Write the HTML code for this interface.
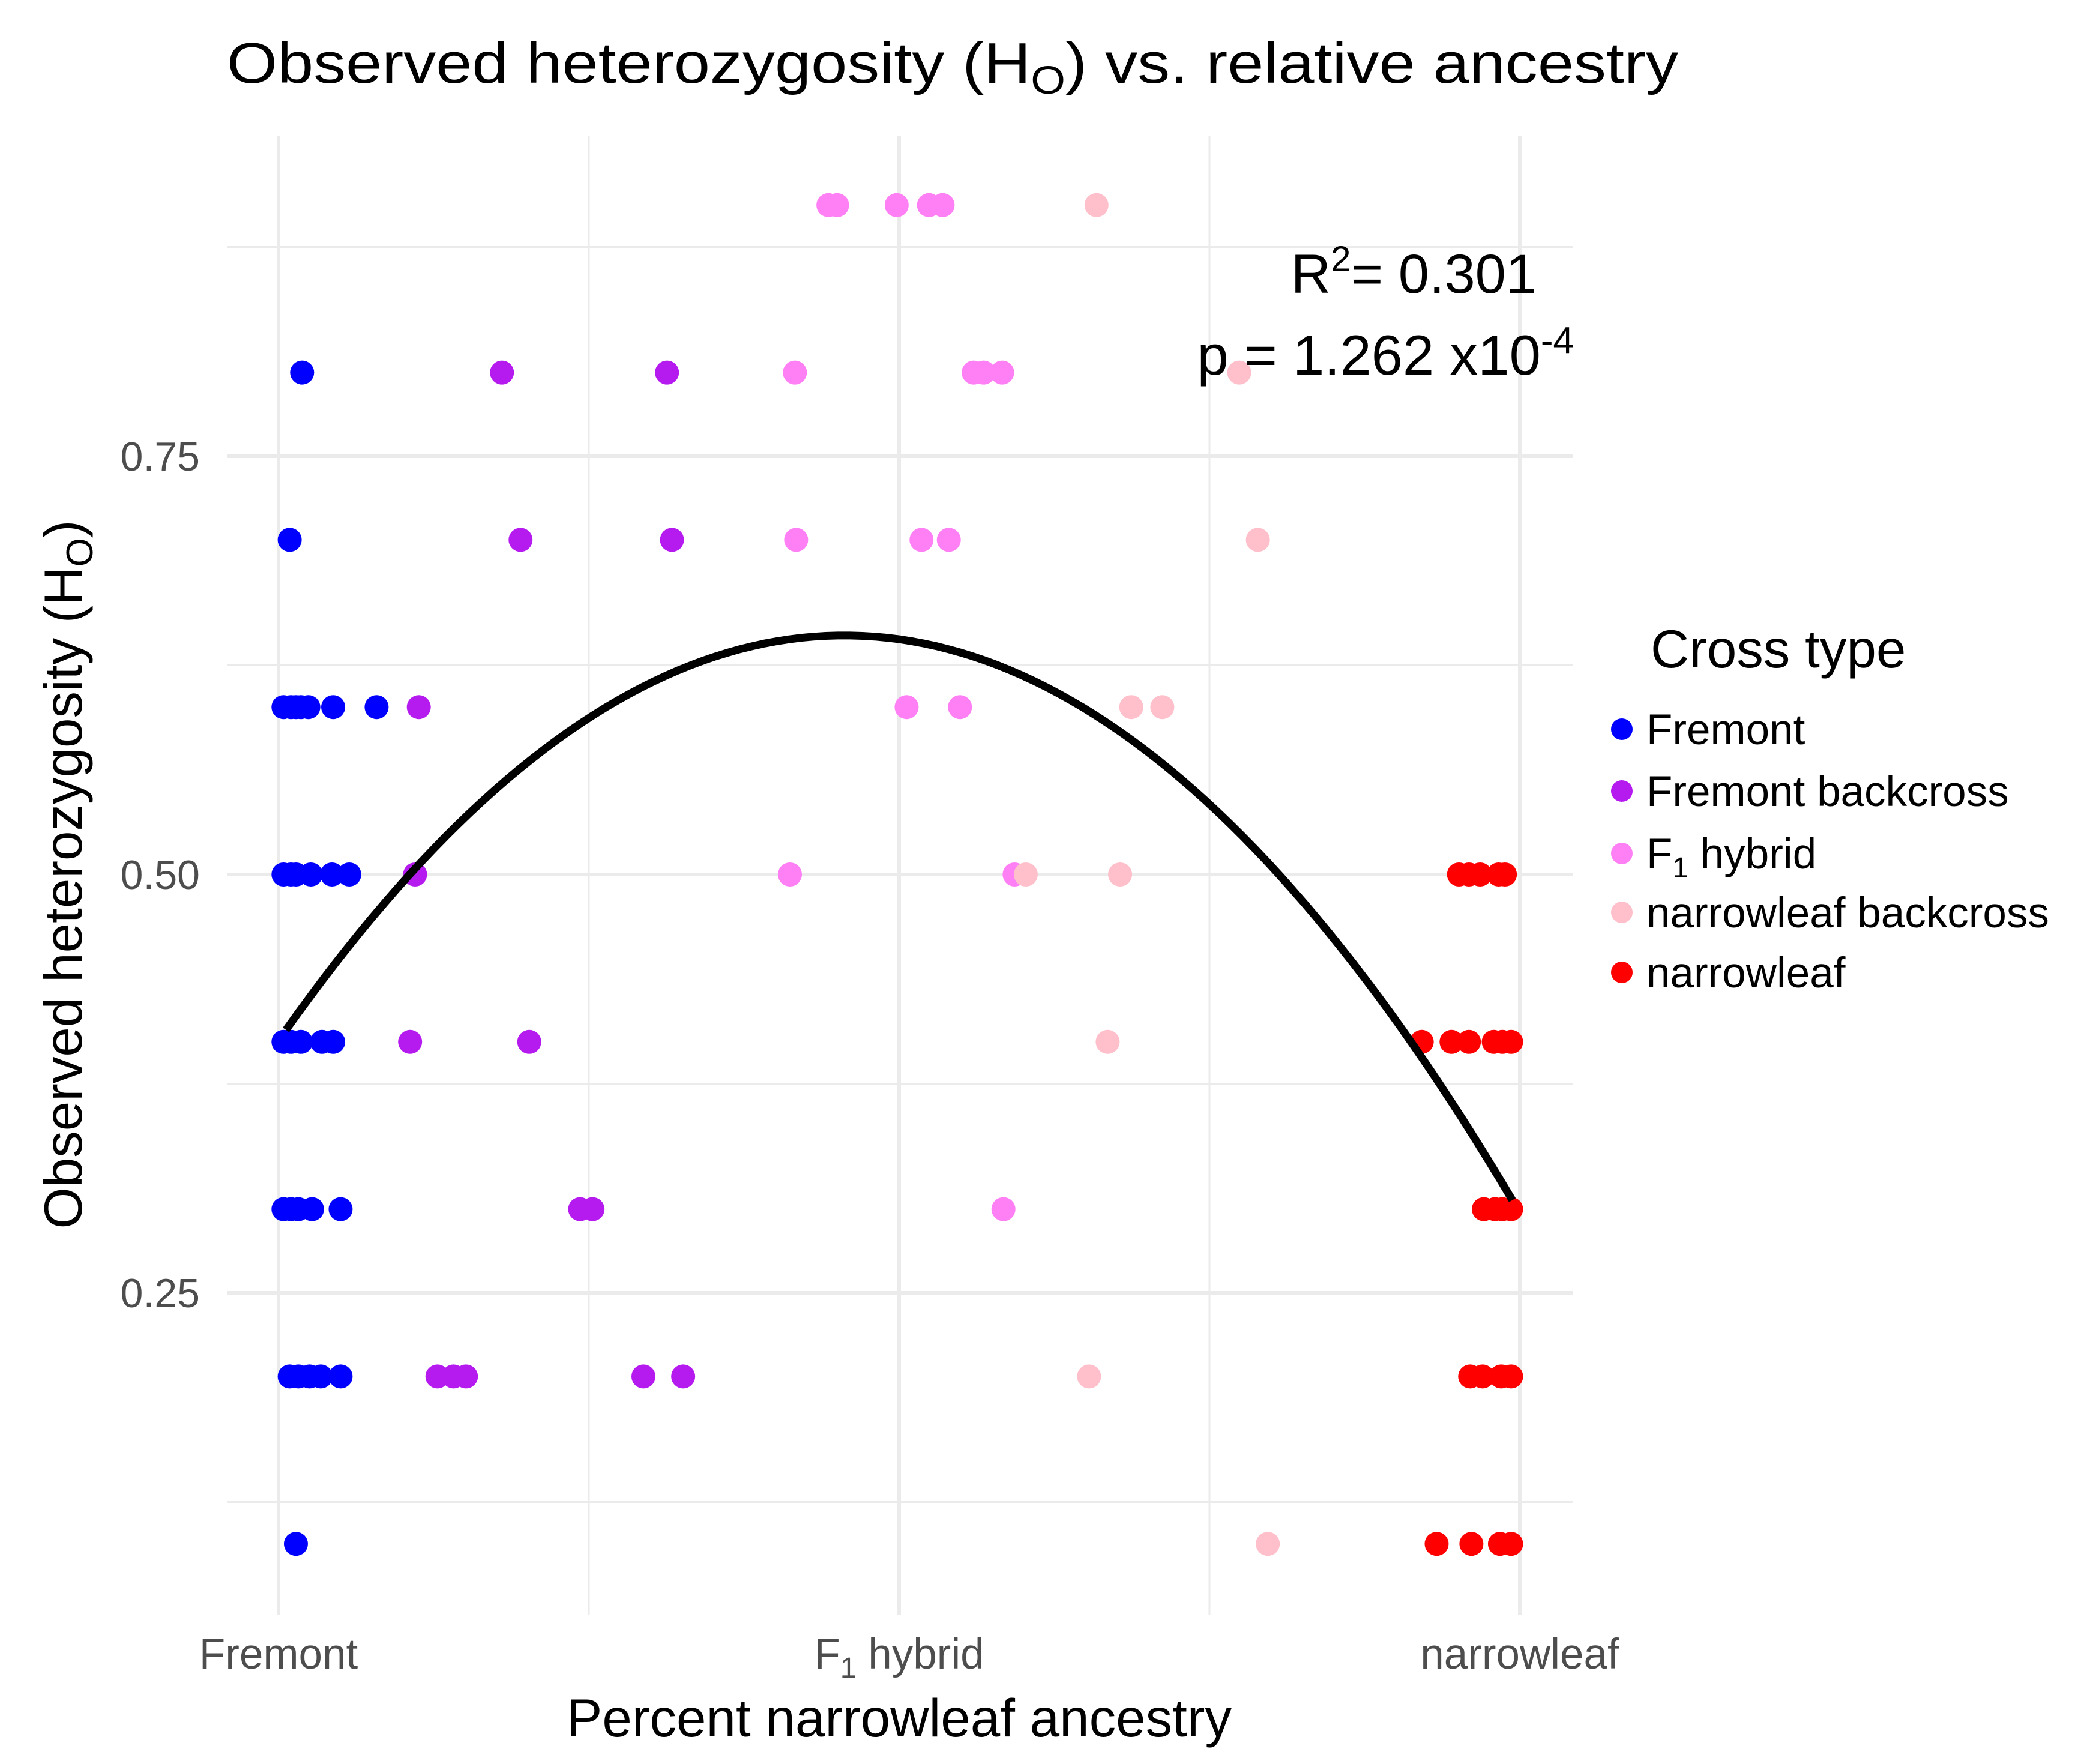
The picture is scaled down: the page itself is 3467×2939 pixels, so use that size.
<!DOCTYPE html>
<html><head><meta charset="utf-8"><style>
html,body{margin:0;padding:0;background:#fff;}
svg{display:block;}
text{font-family:"Liberation Sans",sans-serif;}
</style></head><body>
<svg id="chart" width="3467" height="2939" viewBox="0 0 3467 2939" xmlns="http://www.w3.org/2000/svg">
<rect x="0" y="0" width="3467" height="2939" fill="#fff"/>
<g id="grid"></g>
<g id="points"></g>
<path id="curve" fill="none" stroke="#000" stroke-width="13"/>
<g id="axes"></g>
<text x="378" y="138" font-size="96" fill="#000" textLength="2418" lengthAdjust="spacingAndGlyphs">Observed heterozygosity (H<tspan font-size="66" dy="18">O</tspan><tspan dy="-18">) vs. relative ancestry</tspan></text>
<text x="2560" y="488" font-size="92" text-anchor="end" fill="#000">R<tspan font-size="60" dy="-36">2</tspan><tspan dy="36">= 0.301</tspan></text>
<text x="2622" y="624" font-size="94" text-anchor="end" fill="#000">p = 1.262 x10<tspan font-size="62" dy="-36">-4</tspan></text>
<text x="1498" y="2893" font-size="89" text-anchor="middle" fill="#000">Percent narrowleaf ancestry</text>
<text transform="translate(136,1457) rotate(-90)" font-size="89" text-anchor="middle" fill="#000">Observed heterozygosity (H<tspan font-size="62" dy="18">O</tspan><tspan dy="-18">)</tspan></text>
<g id="legend">
<text x="2750" y="1112" font-size="89" fill="#000">Cross type</text>
</g>
</svg>
<script>
const categories = ["Fremont","Fremont backcross","F1 hybrid","narrowleaf backcross","narrowleaf"];
const colors = ["#0000FF","#B51BEF","#FF80F5","#FFC0CB","#FF0000"];
const xTickValues = [0, 0.5, 1];
const xTickLabels = ["Fremont","F1 hybrid","narrowleaf"];
const yTickValues = [0.25, 0.5, 0.75];
const yTickLabels = ["0.25","0.50","0.75"];
const fitCoeffs = [0.4008, 1.062, -1.165];
const fitRange = [0.006, 0.994];
const fremontX = [0.019, 0.009, 0.004,0.01,0.014,0.018,0.024,0.044,0.079, 0.004,0.01,0.014,0.026,0.043,0.057, 0.004,0.01,0.018,0.035,0.044, 0.004,0.01,0.016,0.027,0.05, 0.009,0.016,0.025,0.034,0.05, 0.014];
const fremontY = [0.8, 0.7, 0.6,0.6,0.6,0.6,0.6,0.6,0.6, 0.5,0.5,0.5,0.5,0.5,0.5, 0.4,0.4,0.4,0.4,0.4, 0.3,0.3,0.3,0.3,0.3, 0.2,0.2,0.2,0.2,0.2, 0.1];
const fbcX = [0.18,0.313, 0.195,0.317, 0.113, 0.11, 0.106,0.202, 0.243,0.253, 0.128,0.141,0.151,0.294,0.326];
const fbcY = [0.8,0.8, 0.7,0.7, 0.6, 0.5, 0.4,0.4, 0.3,0.3, 0.2,0.2,0.2,0.2,0.2];
const f1X = [0.443,0.45,0.498,0.524,0.535, 0.416,0.56,0.568,0.583, 0.417,0.518,0.54, 0.506,0.549, 0.412,0.593, 0.584];
const f1Y = [0.9,0.9,0.9,0.9,0.9, 0.8,0.8,0.8,0.8, 0.7,0.7,0.7, 0.6,0.6, 0.5,0.5, 0.3];
const nbcX = [0.659, 0.774, 0.789, 0.687,0.712, 0.602,0.678, 0.668, 0.653, 0.797];
const nbcY = [0.9, 0.8, 0.7, 0.6,0.6, 0.5,0.5, 0.4, 0.2, 0.1];
const narrowX = [0.951,0.959,0.968,0.983,0.988, 0.921,0.945,0.959,0.979,0.986,0.993, 0.971,0.98,0.986,0.993, 0.96,0.97,0.985,0.993, 0.933,0.961,0.984,0.993];
const narrowY = [0.5,0.5,0.5,0.5,0.5, 0.4,0.4,0.4,0.4,0.4,0.4, 0.3,0.3,0.3,0.3, 0.2,0.2,0.2,0.2, 0.1,0.1,0.1,0.1];

const NS = "http://www.w3.org/2000/svg";
const P = {left:378, right:2620, top:227, bottom:2690};
function xScale(v){ return 464 + v*(2532-464); }
function yScale(v){ return 760 + (0.75-v)*2788; }
function mk(tag, parent){ const e=document.createElementNS(NS,tag); parent.appendChild(e); return e; }

const grid=document.getElementById('grid');
const minorY=[0.125,0.375,0.625,0.875];
minorY.forEach(v=>{ const l=mk('line',grid);
  
  
  l.setAttribute('x1',P.left);l.setAttribute('x2',P.right);l.setAttribute('y1',yScale(v));l.setAttribute('y2',yScale(v));
  l.setAttribute('stroke','#ebebeb');l.setAttribute('stroke-width','3');});
[0.25,0.75].forEach(v=>{ const l=mk('line',grid);
  
  
  l.setAttribute('x1',xScale(v));l.setAttribute('x2',xScale(v));l.setAttribute('y1',P.top);l.setAttribute('y2',P.bottom);
  l.setAttribute('stroke','#ebebeb');l.setAttribute('stroke-width','3');});
yTickValues.forEach(v=>{ const l=mk('line',grid);
  
  
  l.setAttribute('x1',P.left);l.setAttribute('x2',P.right);l.setAttribute('y1',yScale(v));l.setAttribute('y2',yScale(v));
  l.setAttribute('stroke','#ebebeb');l.setAttribute('stroke-width','6');});
xTickValues.forEach(v=>{ const l=mk('line',grid);
  
  
  l.setAttribute('x1',xScale(v));l.setAttribute('x2',xScale(v));l.setAttribute('y1',P.top);l.setAttribute('y2',P.bottom);
  l.setAttribute('stroke','#ebebeb');l.setAttribute('stroke-width','6');});

const axes=document.getElementById('axes');
yTickValues.forEach((v,i)=>{ const t=mk('text',axes);
  
  
  t.setAttribute('x',333);t.setAttribute('y',yScale(v)+24);t.setAttribute('font-size','68');
  t.setAttribute('text-anchor','end');t.setAttribute('fill','#4d4d4d');t.textContent=yTickLabels[i];});
xTickValues.forEach((v,i)=>{ const t=mk('text',axes);
  
  
  t.setAttribute('x',xScale(v));t.setAttribute('y',2780);t.setAttribute('font-size','71');
  t.setAttribute('text-anchor','middle');t.setAttribute('fill','#4d4d4d');
  if(xTickLabels[i]==="F1 hybrid"){ t.innerHTML='F<tspan font-size="48" dy="15">1</tspan><tspan dy="-15"> hybrid</tspan>'; }
  else t.textContent=xTickLabels[i];});

const pts=document.getElementById('points');
const seriesX=[fremontX,fbcX,f1X,nbcX,narrowX];
const seriesY=[fremontY,fbcY,f1Y,nbcY,narrowY];
seriesX.forEach((xs,s)=>{ xs.forEach((x,i)=>{ const c=mk('circle',pts);
  
  
  c.setAttribute('cx',xScale(x));c.setAttribute('cy',yScale(seriesY[s][i]));c.setAttribute('r','20');c.setAttribute('fill',colors[s]);});});

let d='';
for(let i=0;i<=100;i++){ const x=fitRange[0]+(fitRange[1]-fitRange[0])*i/100;
  const y=fitCoeffs[0]+fitCoeffs[1]*x+fitCoeffs[2]*x*x;
  d+=(i?'L':'M')+xScale(x).toFixed(1)+','+yScale(y).toFixed(1); }
document.getElementById('curve').setAttribute('d',d);

const leg=document.getElementById('legend');
const legY=[1215,1318,1422,1520,1620];
categories.forEach((c,i)=>{ const k=mk('circle',leg);
  
  
  k.setAttribute('cx',2702);k.setAttribute('cy',legY[i]);k.setAttribute('r','18');k.setAttribute('fill',colors[i]);
  const t=mk('text',leg);
  
  
  t.setAttribute('x',2743);t.setAttribute('y',legY[i]+25);t.setAttribute('font-size','71');t.setAttribute('fill','#000');
  if(c==="F1 hybrid"){ t.innerHTML='F<tspan font-size="48" dy="15">1</tspan><tspan dy="-15"> hybrid</tspan>'; }
  else t.textContent=c;});
</script>
</body></html>
